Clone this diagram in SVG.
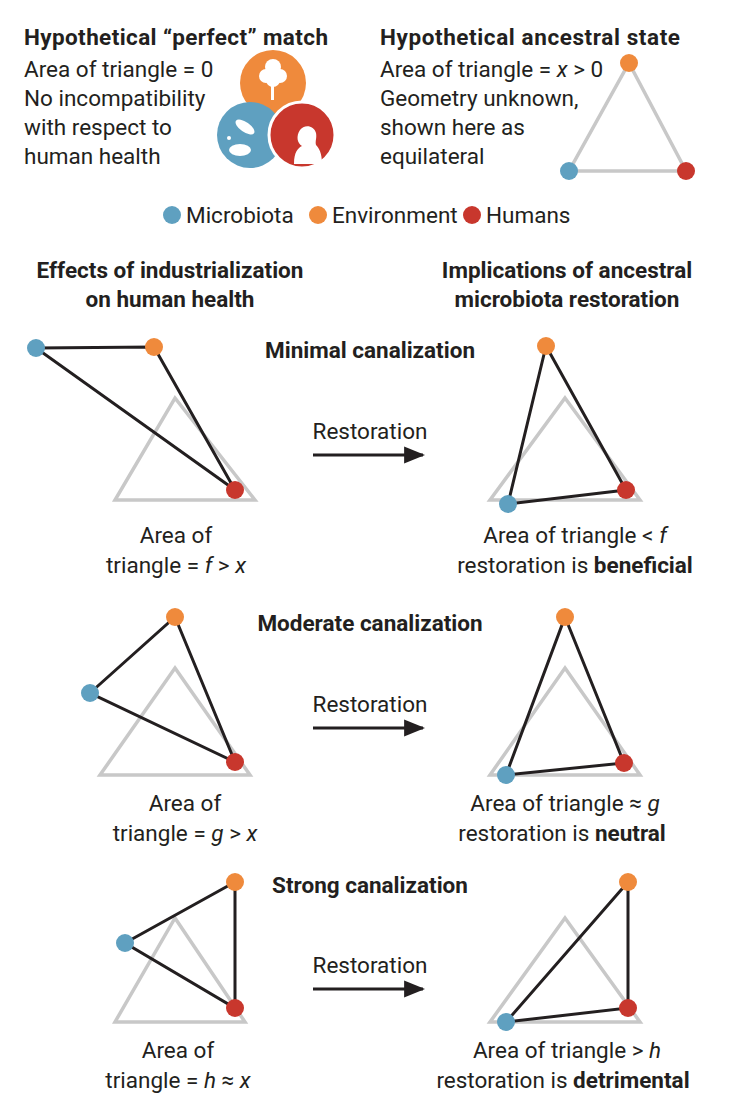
<svg xmlns="http://www.w3.org/2000/svg" width="732" height="1116" viewBox="0 0 732 1116">
<style>
text{font-family:"Roboto","Liberation Sans",sans-serif;font-size:22.5px;fill:#231f20}
.b{font-weight:bold}
.c{text-anchor:middle}
.g{fill:none;stroke:#c8c8c8;stroke-width:3.5}
.k{fill:none;stroke:#231f20;stroke-width:3}
.bl{fill:#5fa0c0}.or{fill:#ef8a3c}.rd{fill:#c8372d}
</style>
<defs><marker id="ah" viewBox="0 0 10 10" refX="9" refY="5" markerWidth="7" markerHeight="7" orient="auto"><path d="M0,1L10,5L0,9z" fill="#231f20"/></marker></defs>
<rect width="732" height="1116" fill="#fff"/>
<g id="perfect">
<text x="24" y="45" class="b" textLength="304">Hypothetical “perfect” match</text>
<text x="24" y="77">Area of triangle = 0</text>
<text x="24" y="106">No incompatibility</text>
<text x="24" y="135">with respect to</text>
<text x="24" y="164">human health</text>
<circle cx="273" cy="83" r="33" class="or"/>
<circle cx="250" cy="135" r="33" class="bl"/>
<circle cx="302" cy="135" r="33" class="rd" stroke="#fff" stroke-width="3"/>
<g fill="#fff"><circle cx="266" cy="76" r="7"/><circle cx="280" cy="76" r="7"/><circle cx="273" cy="67" r="8"/><circle cx="273" cy="80" r="7"/><rect x="271" y="84" width="3" height="16"/>
<path d="M294,164c0-12 4-16 8-18c-5-3-6-10-2-16c4-6 14-5 16 3c1 5-1 8 0 12c3 3 6 8 6 19z"/>
<ellipse cx="240" cy="150" rx="11" ry="6"/><ellipse cx="245" cy="127" rx="11" ry="5" transform="rotate(35 245 127)"/><circle cx="229" cy="138" r="2"/></g>
</g>
<g id="ancestral">
<text x="380" y="45" class="b" textLength="300">Hypothetical ancestral state</text>
<text x="380" y="77">Area of triangle = <tspan font-style="italic">x</tspan> &gt; 0</text>
<text x="380" y="106">Geometry unknown,</text>
<text x="380" y="135">shown here as</text>
<text x="380" y="164">equilateral</text>
<path d="M629,63L686,171L569,171z" class="g"/>
<circle cx="629" cy="63" r="9" class="or"/><circle cx="569" cy="171" r="9" class="bl"/><circle cx="686" cy="171" r="9" class="rd"/>
</g>
<g id="legend">
<circle cx="172" cy="215" r="9" class="bl"/><text x="186" y="223">Microbiota</text>
<circle cx="318" cy="215" r="9" class="or"/><text x="332" y="223">Environment</text>
<circle cx="472" cy="215" r="9" class="rd"/><text x="486" y="223">Humans</text>
</g>
<g id="headers">
<text x="170" y="278" class="b c">Effects of industrialization</text>
<text x="170" y="307" class="b c">on human health</text>
<text x="567" y="278" class="b c">Implications of ancestral</text>
<text x="567" y="307" class="b c">microbiota restoration</text>
<text x="370" y="358" class="b c">Minimal canalization</text>
<text x="370" y="631" class="b c">Moderate canalization</text>
<text x="370" y="893" class="b c">Strong canalization</text>
</g>
<g id="connectors">
<line x1="313" y1="455" x2="423" y2="455" class="k" marker-end="url(#ah)"/>
<line x1="313" y1="728" x2="423" y2="728" class="k" marker-end="url(#ah)"/>
<line x1="313" y1="989" x2="423" y2="989" class="k" marker-end="url(#ah)"/>
<text x="370" y="439" class="c">Restoration</text>
<text x="370" y="712" class="c">Restoration</text>
<text x="370" y="973" class="c">Restoration</text>
</g>
<g id="min-left">
<path d="M175,398L255,500L115,500z" class="g"/>
<path d="M36,348L154,347L235,490z" class="k"/>
<circle cx="36" cy="348" r="9" class="bl"/><circle cx="154" cy="347" r="9" class="or"/><circle cx="235" cy="490" r="9" class="rd"/>
<text x="176" y="543" class="c">Area of</text>
<text x="176" y="573" class="c">triangle = <tspan font-style="italic">f</tspan> &gt; <tspan font-style="italic">x</tspan></text>
</g>
<g id="min-right">
<path d="M565,398L640,500L490,500z" class="g"/>
<path d="M546,346L626,490L508,504z" class="k"/>
<circle cx="546" cy="346" r="9" class="or"/><circle cx="508" cy="504" r="9" class="bl"/><circle cx="626" cy="490" r="9" class="rd"/>
<text x="575" y="543" class="c">Area of triangle &lt; <tspan font-style="italic">f</tspan></text>
<text x="575" y="573" class="c">restoration is <tspan class="b">beneficial</tspan></text>
</g>
<g id="mod-left">
<path d="M175,668L250,775L100,775z" class="g"/>
<path d="M175,617L235,762L90,693z" class="k"/>
<circle cx="175" cy="617" r="9" class="or"/><circle cx="90" cy="693" r="9" class="bl"/><circle cx="235" cy="762" r="9" class="rd"/>
<text x="185" y="811" class="c">Area of</text>
<text x="185" y="841" class="c">triangle = <tspan font-style="italic">g</tspan> &gt; <tspan font-style="italic">x</tspan></text>
</g>
<g id="mod-right">
<path d="M565,668L640,775L490,775z" class="g"/>
<path d="M565,617L624,763L506,775z" class="k"/>
<circle cx="565" cy="617" r="9" class="or"/><circle cx="506" cy="775" r="9" class="bl"/><circle cx="624" cy="763" r="9" class="rd"/>
<text x="565" y="811" class="c">Area of triangle ≈ <tspan font-style="italic">g</tspan></text>
<text x="562" y="841" class="c">restoration is <tspan class="b">neutral</tspan></text>
</g>
<g id="strong-left">
<path d="M175,918L245,1022L115,1022z" class="g"/>
<path d="M235,882L235,1008L125,943z" class="k"/>
<circle cx="235" cy="882" r="9" class="or"/><circle cx="125" cy="943" r="9" class="bl"/><circle cx="235" cy="1008" r="9" class="rd"/>
<text x="178" y="1058" class="c">Area of</text>
<text x="178" y="1088" class="c">triangle = <tspan font-style="italic">h</tspan> ≈ <tspan font-style="italic">x</tspan></text>
</g>
<g id="strong-right">
<path d="M565,918L640,1022L490,1022z" class="g"/>
<path d="M628,882L628,1008L506,1022z" class="k"/>
<circle cx="628" cy="882" r="9" class="or"/><circle cx="506" cy="1022" r="9" class="bl"/><circle cx="628" cy="1008" r="9" class="rd"/>
<text x="567" y="1058" class="c">Area of triangle &gt; <tspan font-style="italic">h</tspan></text>
<text x="563" y="1088" class="c">restoration is <tspan class="b">detrimental</tspan></text>
</g>
</svg>
